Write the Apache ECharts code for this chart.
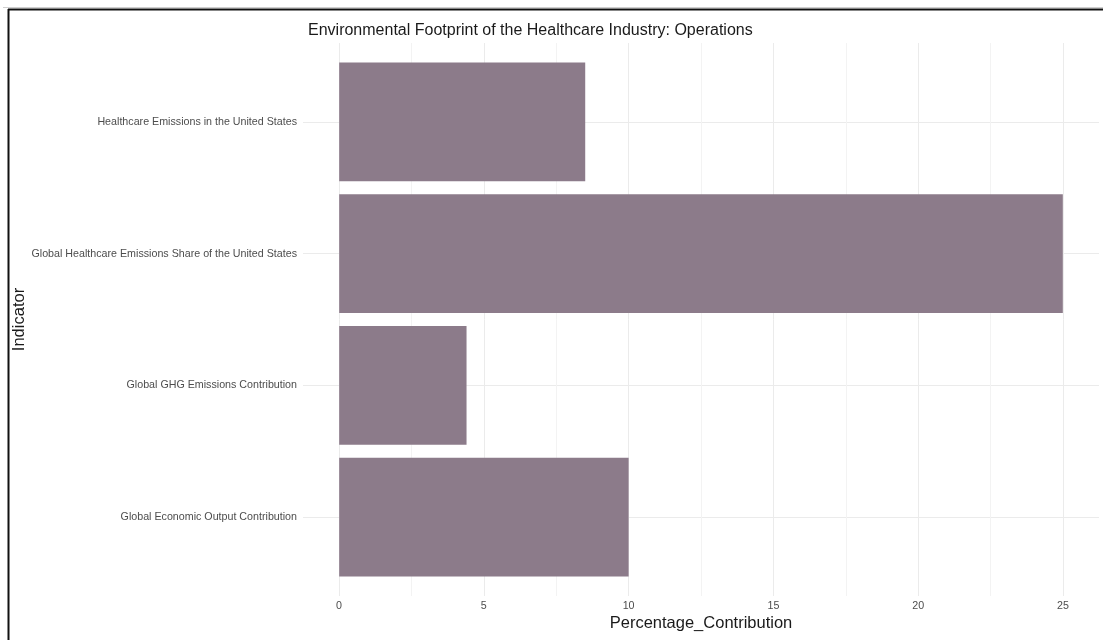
<!DOCTYPE html>
<html>
<head>
<meta charset="utf-8">
<script src="https://cdn.jsdelivr.net/npm/echarts@6/dist/echarts.min.js"></script>
<style>html,body{margin:0;padding:0;background:#fff}#c{width:1103px;height:640px}</style>
</head>
<body>
<div id="c"></div>
<script>
const titleText = 'Environmental Footprint of the Healthcare Industry: Operations';
const categories = [
  'Healthcare Emissions in the United States',
  'Global Healthcare Emissions Share of the United States',
  'Global GHG Emissions Contribution',
  'Global Economic Output Contribution'
];
const values = [8.5, 25, 4.4, 10];
const xTicks = [0, 5, 10, 15, 20, 25];
const xName = 'Percentage_Contribution';
const yName = 'Indicator';

const font = 'Liberation Sans, Arial, sans-serif';
const chart = echarts.init(document.getElementById('c'));
chart.setOption({
  animation: false,
  backgroundColor: '#ffffff',
  title: {
    text: titleText, left: 303, top: 18,
    textStyle: {fontFamily: font, fontSize: 16, fontWeight: 'normal', color: '#1a1a1a'}
  },
  graphic: [
    {type: 'line', shape: {x1: 3, y1: 7.5, x2: 1103, y2: 7.5}, style: {stroke: '#cfcfcf', lineWidth: 1}},
    {type: 'line', shape: {x1: 8, y1: 9.5, x2: 1103, y2: 9.5}, style: {stroke: '#111', lineWidth: 2}},
    {type: 'line', shape: {x1: 8.5, y1: 9, x2: 8.5, y2: 640}, style: {stroke: '#111', lineWidth: 2}}
  ],
  grid: [
    {left: 339, right: 40, top: 43, bottom: 44, containLabel: false, outerBoundsMode: 'none'},
    {left: 303, right: 4, top: 56, bottom: 57, containLabel: false, outerBoundsMode: 'none'}
  ],
  xAxis: [
    {
      gridIndex: 0, type: 'value', min: 0, max: 25, interval: 5,
      axisLine: {show: false}, axisTick: {show: false},
      minorTick: {show: false, splitNumber: 2},
      minorSplitLine: {show: true, lineStyle: {color: '#f3f3f3', width: 1}},
      splitLine: {show: true, lineStyle: {color: '#ebebeb', width: 1}},
      axisLabel: {
        color: '#4d4d4d', fontSize: 10.7, fontFamily: font, margin: 5,
        formatter: v => (xTicks.indexOf(v) >= 0 ? String(v) : '')
      },
      name: xName, nameLocation: 'middle', nameGap: 19, nameMoveOverlap: false,
      nameTextStyle: {color: '#1a1a1a', fontSize: 16.5, fontFamily: font}
    },
    {
      gridIndex: 1, type: 'value', min: -1.25, max: 26.25, show: false
    }
  ],
  yAxis: [
    {gridIndex: 0, type: 'value', show: false, splitLine: {show: false}},
    {
      gridIndex: 1, type: 'category', inverse: true, data: categories,
      axisLine: {show: false}, axisTick: {show: false},
      splitLine: {show: true, alignWithLabel: true, lineStyle: {color: '#ebebeb', width: 1}},
      axisLabel: {color: '#4d4d4d', fontSize: 10.7, fontFamily: font, margin: 6},
      name: yName, nameLocation: 'middle', nameGap: 275, nameRotate: 90, nameMoveOverlap: false,
      nameTextStyle: {color: '#1a1a1a', fontSize: 16.5, fontFamily: font}
    }
  ],
  series: [{
    type: 'bar', xAxisIndex: 1, yAxisIndex: 1, data: values, barWidth: '90%',
    itemStyle: {color: '#8c7b8a'}
  }]
});
</script>
</body>
</html>
